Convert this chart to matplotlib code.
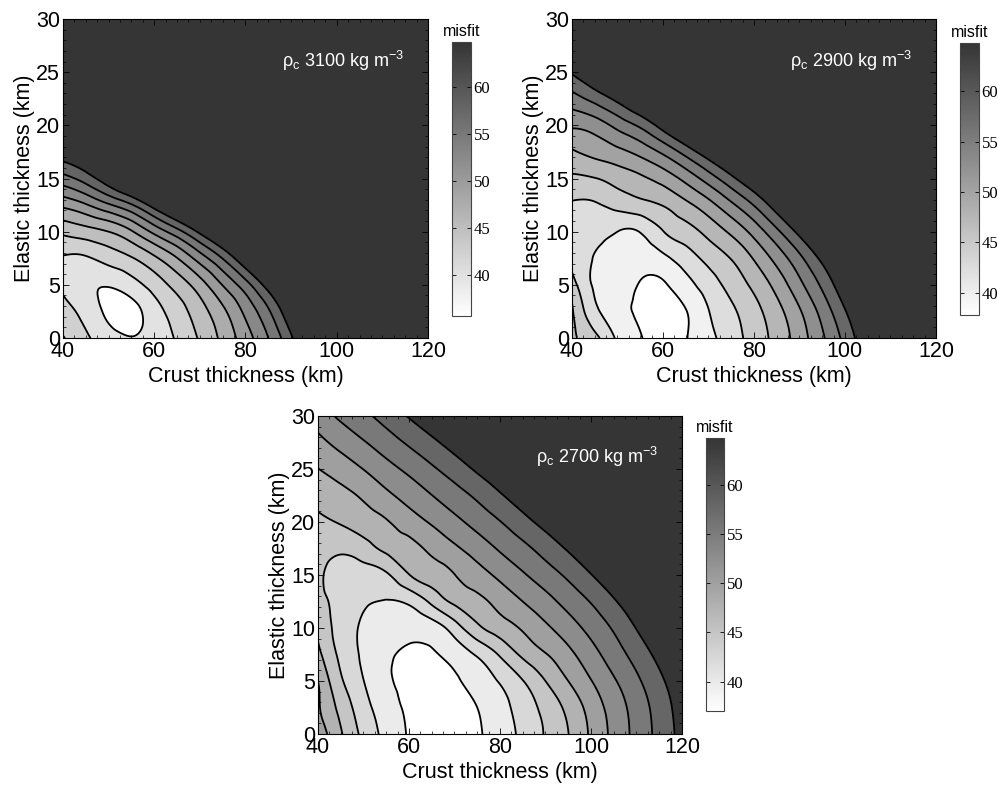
import numpy as np
import matplotlib as mp
import matplotlib.pyplot as plt
import matplotlib.tri as mtri
from matplotlib.colors import LinearSegmentedColormap, Normalize
from matplotlib.ticker import MultipleLocator

mp.rcParams['font.family'] = 'Liberation Sans'
mp.rcParams['mathtext.default'] = 'regular'
mp.rcParams['font.size'] = 15.5

# grid nodes (km)
crust = [40, 45, 50, 55, 60, 65, 70, 75, 80, 85, 90, 95, 100, 105, 110, 115, 120]
elastic = [0, 2.5, 5, 7.5, 10, 12.5, 15, 17.5, 20, 22.5, 25, 30]

# misfit on the grid, one row per elastic thickness
misfit_3100 = [
    [43.9, 41.5, 39.75, 38.6, 39.6, 41.4, 44.0, 46.95, 50.3, 54.1, 58.9, 64.3, 69.7, 75.1, 80.5, 85.9, 91.3],
    [42.0, 40.15, 37.9, 37.6, 40.0, 42.4, 45.2, 48.3, 52.1, 56.3, 61.7, 67.1, 72.5, 78.0, 83.3, 88.7, 94.2],
    [40.7, 39.1, 38.7, 40.0, 42.2, 44.7, 47.7, 51.6, 55.6, 60.6, 65.8, 71.1, 76.3, 81.6, 86.8, 92.1, 97.3],
    [40.9, 40.8, 42.1, 43.5, 45.8, 48.8, 52.7, 56.8, 61.8, 66.8, 71.8, 76.8, 81.8, 86.8, 91.8, 96.8, 101.8],
    [44.3, 45.2, 46.3, 48.6, 52.2, 55.7, 59.9, 64.4, 68.9, 73.4, 77.9, 82.4, 86.9, 91.4, 95.9, 100.4, 104.9],
    [49.5, 51.2, 53.7, 56.4, 60.5, 64.6, 68.8, 72.9, 77.1, 81.2, 85.4, 89.5, 93.7, 97.8, 102.0, 106.1, 110.3],
    [55.7, 57.9, 61.2, 64.8, 68.5, 72.2, 76.0, 80.0, 84.0, 88.0, 92.0, 96.0, 100.0, 104.0, 108.0, 112.0, 116.0],
    [61.1, 63.0, 66.3, 70.0, 73.4, 77.0, 81.0, 85.1, 89.0, 93.0, 97.1, 101.0, 105.0, 109.1, 113.0, 117.0, 121.0],
    [66.0, 68.5, 71.5, 75.0, 78.5, 82.0, 86.0, 90.0, 94.0, 98.0, 102.0, 106.0, 110.0, 114.0, 118.0, 122.0, 126.0],
    [71.1, 73.4, 76.6, 80.0, 83.6, 87.0, 91.0, 95.1, 99.0, 103.0, 107.1, 111.0, 115.0, 119.1, 123.0, 127.0, 131.0],
    [76.0, 78.5, 81.5, 85.0, 88.5, 92.0, 96.0, 100.0, 104.0, 108.0, 112.0, 116.0, 120.0, 124.0, 128.0, 132.0, 136.0],
    [86.0, 88.5, 91.5, 95.0, 98.5, 102.0, 106.0, 110.0, 114.0, 118.0, 122.0, 126.0, 130.0, 134.0, 138.0, 142.0, 146.0],
]
misfit_2900 = [
    [46.8, 44.5, 40.7, 38.6, 38.0, 38.4, 40.3, 42.5, 44.8, 47.2, 50.2, 53.7, 57.5, 61.6, 65.6, 69.7, 73.7],
    [46.6, 41.8, 39.5, 38.1, 37.8, 38.4, 41.0, 43.2, 45.4, 48.0, 51.2, 55.0, 59.1, 63.2, 67.4, 71.6, 75.8],
    [44.9, 40.8, 39.9, 38.3, 38.2, 40.1, 42.4, 44.6, 46.9, 49.8, 53.4, 57.2, 61.4, 65.6, 69.8, 74.0, 78.2],
    [42.8, 41.0, 40.3, 39.6, 40.5, 42.4, 44.5, 46.4, 49.1, 52.4, 56.05, 60.0, 64.1, 68.2, 72.2, 76.3, 80.4],
    [42.6, 41.8, 41.1, 41.2, 43.6, 45.2, 47.1, 49.4, 52.4, 56.1, 60.1, 64.2, 68.3, 72.3, 76.4, 80.4, 84.5],
    [43.4, 43.4, 44.5, 45.4, 46.4, 48.2, 50.5, 53.5, 56.8, 60.7, 64.5, 68.3, 72.1, 75.9, 79.7, 83.5, 87.3],
    [45.8, 46.2, 47.3, 48.4, 49.9, 52.3, 55.3, 58.6, 62.0, 65.4, 68.8, 72.2, 75.6, 79.0, 82.4, 85.8, 89.2],
    [48.6, 49.7, 50.8, 52.3, 54.6, 57.7, 61.1, 64.5, 67.9, 71.3, 74.7, 78.1, 81.5, 84.9, 88.3, 91.7, 95.1],
    [51.9, 52.7, 54.9, 57.2, 60.5, 63.9, 67.3, 70.7, 74.1, 77.5, 80.9, 84.3, 87.7, 91.1, 94.5, 97.9, 101.3],
    [55.6, 57.6, 60.0, 62.8, 65.6, 68.7, 71.8, 75.1, 78.5, 81.9, 85.3, 88.7, 92.1, 95.5, 98.9, 102.3, 105.7],
    [59.6, 62.1, 64.6, 67.1, 69.6, 73.0, 76.4, 79.8, 83.2, 86.6, 90.0, 93.4, 96.8, 100.2, 103.6, 107.0, 110.4],
    [67.6, 70.1, 72.6, 75.1, 77.6, 81.0, 84.4, 87.8, 91.2, 94.6, 98.0, 101.4, 104.8, 108.2, 111.6, 115.0, 118.4],
]
misfit_2700 = [
    [50.5, 46.6, 43.0, 40.3, 38.3, 37.4, 37.5, 38.2, 39.8, 41.7, 43.9, 46.25, 49.3, 52.2, 54.9, 57.5, 60.2],
    [49.2, 45.5, 42.1, 39.7, 38.0, 37.0, 37.2, 38.5, 40.2, 42.2, 44.5, 47.0, 49.9, 52.6, 55.2, 57.8, 60.5],
    [48.9, 44.1, 41.15, 38.9, 37.8, 37.0, 38.0, 39.6, 41.3, 43.6, 46.3, 48.9, 51.4, 53.8, 56.2, 58.7, 61.2],
    [47.0, 43.1, 40.7, 39.0, 38.1, 38.2, 39.5, 41.4, 44.0, 46.8, 48.75, 50.8, 53.1, 55.4, 57.7, 60.1, 62.5],
    [45.8, 42.6, 40.8, 39.9, 39.2, 39.8, 42.4, 45.65, 47.6, 49.2, 51.0, 52.9, 54.9, 57.0, 59.4, 61.8, 64.2],
    [44.6, 42.7, 41.4, 41.0, 41.6, 44.3, 46.8, 48.2, 49.8, 51.5, 53.2, 55.0, 56.85, 59.0, 61.2, 63.5, 65.7],
    [44.4, 42.4, 42.5, 43.3, 46.2, 47.55, 48.85, 50.4, 52.1, 53.8, 55.45, 57.2, 59.2, 61.2, 63.1, 65.1, 67.0],
    [45.0, 44.25, 45.2, 46.9, 48.1, 49.5, 51.05, 52.7, 54.4, 56.0, 57.75, 59.6, 61.5, 63.4, 65.3, 67.2, 69.1],
    [45.9, 46.5, 47.6, 48.7, 50.2, 51.8, 53.4, 55.0, 56.6, 58.4, 60.2, 62.0, 63.9, 65.7, 67.5, 69.4, 71.2],
    [47.1, 48.1, 49.3, 50.9, 52.5, 54.05, 55.6, 57.2, 59.0, 60.8, 62.6, 64.4, 66.2, 68.0, 69.8, 71.6, 73.4],
    [48.85, 50.1, 51.55, 53.2, 54.7, 56.3, 57.95, 59.7, 61.4, 63.1, 64.8, 66.5, 68.2, 70.0, 71.7, 73.4, 75.1],
    [52.7, 54.6, 56.1, 57.7, 59.5, 61.2, 62.9, 64.6, 66.3, 68.0, 69.7, 71.4, 73.1, 74.8, 76.5, 78.2, 79.9],
]

levels = [38.5, 41.1, 43.7, 46.3, 48.9, 51.5, 54.1, 56.7, 59.3]
cbar_ticks = [40, 45, 50, 55, 60]
densities = [3100, 2900, 2700]
cbar_min = [35.6, 37.8, 37.0]
cbar_max = 64.8

grey = LinearSegmentedColormap.from_list('misfit', ['#ffffff', '#353535'])

fig = plt.figure(figsize=(9.98, 7.85), dpi=100)

panels = [
    (misfit_3100, [0.0631, 0.5694, 0.3657, 0.4064], [0.4529, 0.5975, 0.019, 0.349]),
    (misfit_2900, [0.5731, 0.5694, 0.3647, 0.4064], [0.9619, 0.5987, 0.019, 0.3465]),
    (misfit_2700, [0.3186, 0.0650, 0.3647, 0.4051], [0.7074, 0.0943, 0.018, 0.3478]),
]

cx, ey = np.meshgrid(crust, elastic)
tri = mtri.Triangulation(cx.ravel(), ey.ravel())
xf = np.linspace(40, 120, 321)
yf = np.linspace(0, 30, 241)
XX, YY = np.meshgrid(xf, yf)
eps = 1e-7

for (grid, ax_rect, cb_rect), rho, lo in zip(panels, densities, cbar_min):
    z = np.array(grid, dtype=float).ravel()
    interp = mtri.CubicTriInterpolator(tri, z, kind='min_E')
    Z = interp(np.clip(XX, 40 + eps, 120 - eps), np.clip(YY, eps, 30 - eps))
    norm = Normalize(vmin=lo, vmax=cbar_max)

    ax = fig.add_axes(ax_rect)
    ax.contourf(XX, YY, Z, levels=levels, cmap=grey, norm=norm, extend='both')
    ax.contour(XX, YY, Z, levels=levels, colors='k', linewidths=1.3)
    ax.set_xlim(40, 120)
    ax.set_ylim(0, 30)
    ax.set_xticks([40, 60, 80, 100, 120])
    ax.set_yticks([0, 5, 10, 15, 20, 25, 30])
    ax.xaxis.set_minor_locator(MultipleLocator(2.5))
    ax.yaxis.set_minor_locator(MultipleLocator(1))
    ax.tick_params(which='both', direction='in', top=True, right=True, pad=2)
    ax.tick_params(which='major', length=4, width=0.6)
    ax.tick_params(which='minor', length=2, width=0.5)
    for s in ax.spines.values():
        s.set_linewidth(0.8)
    ax.set_xlabel('Crust thickness (km)', labelpad=3)
    ax.set_ylabel('Elastic thickness (km)', labelpad=1)
    ax.text(0.935, 0.87, r'ρ$_c$ %d kg m$^{-3}$' % rho, color='white', fontsize=13,
            ha='right', va='center', transform=ax.transAxes)

    cax = fig.add_axes(cb_rect)
    sm = mp.cm.ScalarMappable(norm=norm, cmap=grey)
    cb = fig.colorbar(sm, cax=cax, ticks=cbar_ticks)
    cb.outline.set_linewidth(0.8)
    cb.outline.set_edgecolor('#444444')
    cax.tick_params(direction='in', length=3, width=0.6, left=True, right=True, pad=2)
    for t in cax.get_yticklabels():
        t.set_fontfamily('Liberation Serif')
        t.set_fontsize(12)
    cax.set_title('misfit', fontsize=11.5, pad=4)

fig.savefig('out.png', dpi=100, facecolor='white')
